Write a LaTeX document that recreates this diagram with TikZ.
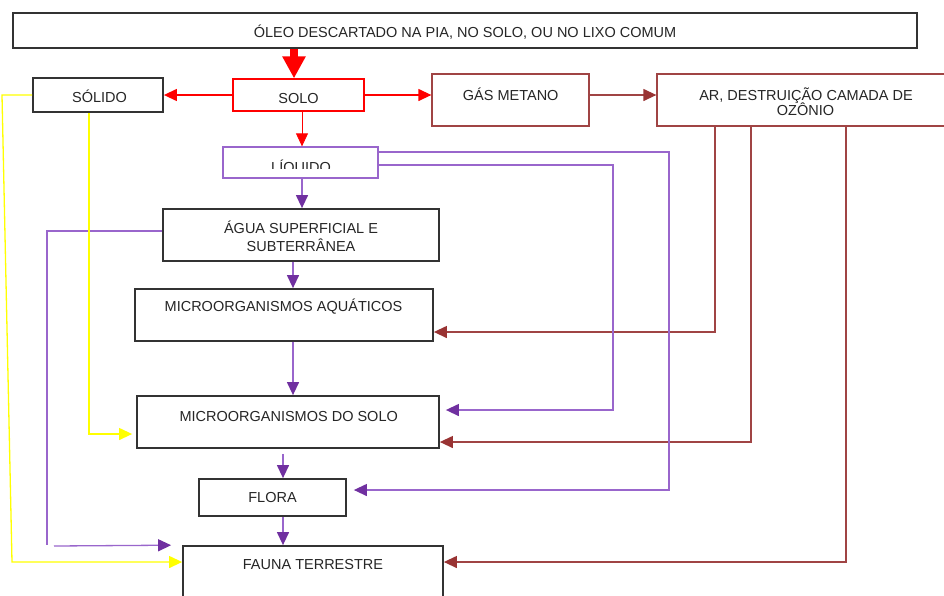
\documentclass[tikz,border=0pt]{standalone}
\usepackage{fontspec}
\setmainfont{Liberation Sans}
\usetikzlibrary{arrows.meta}
\definecolor{redA}{HTML}{FF0000}
\definecolor{brn}{HTML}{A04444}
\definecolor{brnH}{HTML}{993333}
\definecolor{pur}{HTML}{9966CC}
\definecolor{purH}{HTML}{7030A0}
\definecolor{ylw}{HTML}{FFFF00}
\definecolor{blk}{HTML}{333333}
\begin{document}
\begin{tikzpicture}[x=1pt,y=-1pt,
  every node/.style={font=\fontsize{14.5}{15}\selectfont},
  bx/.style={draw=blk, line width=1.8pt, rectangle, inner sep=0pt, fill=white},
  rbx/.style={bx, draw=redA, line width=1.3pt},
  brbx/.style={bx, draw=brn, line width=1.3pt},
  pbx/.style={bx, draw=pur, line width=1.3pt},
  txt/.style={inner sep=0pt, text=black!85, anchor=base},
  conn/.style={line width=1.3pt},
  rtip/.style={-{Triangle[length=13pt,width=12pt,color=redA]}},
  ptip/.style={-{Triangle[length=13pt,width=12pt,color=purH]}},
  btip/.style={-{Triangle[length=13pt,width=12pt,color=brnH]}},
  ytip/.style={-{Triangle[length=13pt,width=12pt,color=ylw]}}
]
\fill[white] (0,0) rectangle (944,595);
\useasboundingbox (0,0) rectangle (944,595);

% boxes
\node[bx, minimum width=904pt, minimum height=35pt] (top) at (465,30.5) {};
\node[bx, minimum width=130pt, minimum height=34pt] (solido) at (98,95) {};
\node[rbx, minimum width=131pt, minimum height=32pt] (solo) at (298.5,95) {};
\node[brbx, minimum width=157pt, minimum height=52pt] (gas) at (510.5,100) {};
\node[brbx, minimum width=296pt, minimum height=52pt] (ar) at (805,100) {};
\node[pbx, minimum width=155pt, minimum height=31pt] (liq) at (300.5,162.5) {};
\node[bx, minimum width=276pt, minimum height=52pt] (agua) at (301,235) {};
\node[bx, minimum width=298pt, minimum height=52pt] (ma) at (284,315) {};
\node[bx, minimum width=302pt, minimum height=52pt] (ms) at (288,422) {};
\node[bx, minimum width=147pt, minimum height=37pt] (flora) at (272.5,497.5) {};
\node[bx, minimum width=260pt, minimum height=54pt] (fauna) at (313,573) {};

% texts
\node[txt] (t-top) at (465,37.5) {ÓLEO DESCARTADO NA PIA, NO SOLO, OU NO LIXO COMUM};
\node[txt] (t-solido) at (99.5,102) {SÓLIDO};
\node[txt] (t-solo) at (298.5,103.3) {SOLO};
\node[txt] (t-gas) at (510.7,100) {GÁS METANO};
\node[txt] (t-ar1) at (806,100) {AR, DESTRUIÇÃO CAMADA DE};
\node[txt] (t-ar2) at (805.5,115) {OZÔNIO};
\begin{scope}
\clip (225,148) rectangle (377,168.3);
\node[txt] (t-liq) at (301,172.5) {LÍQUIDO};
\end{scope}
\node[txt] (t-agua1) at (301,233) {ÁGUA SUPERFICIAL E};
\node[txt] (t-agua2) at (301,251) {SUBTERRÂNEA};
\node[txt] (t-ma) at (283.5,311.7) {MICROORGANISMOS AQUÁTICOS};
\node[txt] (t-ms) at (288.7,421) {MICROORGANISMOS DO SOLO};
\node[txt] (t-flora) at (272.5,502.7) {FLORA};
\node[txt] (t-fauna) at (313,569) {FAUNA TERRESTRE};

% red connectors
\draw[redA, line width=8pt, -{Triangle[length=22pt,width=22pt,color=redA]}] (294,0 |- top.south) -- (294,0 |- solo.north);
\draw[conn, redA, rtip] (solo.west) -- (solido.east);
\draw[conn, redA, rtip] (solo.east) -- (solo.east -| gas.west);
\draw[line width=0.8pt, redA, rtip] (302,0 |- solo.south) -- (302,0 |- liq.north);

% brown connectors
\draw[conn, brn, btip] ([yshift=5pt]gas.east) -- ([yshift=5pt]ar.west);
\draw[conn, brn, btip] (715,0 |- ar.south) -- (715,332) -- (ma.east |- 0,332);
\draw[conn, brn, btip] (751,0 |- ar.south) -- (751,442) -- (ms.east |- 0,442);
\draw[conn, brn, btip] (846,0 |- ar.south) -- (846,562) -- (fauna.east |- 0,562);

% purple connectors
\draw[conn, pur, ptip] (302,0 |- liq.south) -- (302,0 |- agua.north);
\draw[conn, pur, ptip] (293,0 |- agua.south) -- (293,0 |- ma.north);
\draw[conn, pur, ptip] (293,0 |- ma.south) -- (293,0 |- ms.north);
\draw[conn, pur, ptip, shorten <=5pt] (283,0 |- ms.south) -- (283,0 |- flora.north);
\draw[conn, pur, ptip] (283,0 |- flora.south) -- (283,0 |- fauna.north);
\draw[conn, pur, ptip, shorten >=7pt] (liq.east |- 0,152) -- (669,152) -- (669,490) -- (flora.east |- 0,490);
\draw[conn, pur, ptip, shorten >=6pt] (liq.east |- 0,165) -- (613,165) -- (613,410) -- (ms.east |- 0,410);
\coordinate (pend) at (47,545);
\draw[conn, pur] (agua.west |- 0,231) -- (47,231) -- (pend);
\coordinate (pv) at (54,546);
\draw[conn, pur, ptip, shorten >=11pt] (pv) -- (fauna.north west);

% yellow connectors
\draw[conn, ylw, ytip] (solido.west) -- (2,95) -- (12,562) -- (fauna.west |- 0,562);
\draw[conn, ylw, ytip, shorten >=4pt] (89,0 |- solido.south) -- (89,434) -- (ms.west |- 0,434);
\end{tikzpicture}
\end{document}
